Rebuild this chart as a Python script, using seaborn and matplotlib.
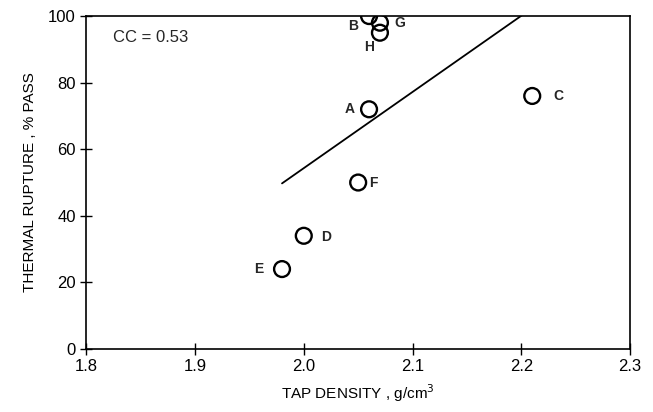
import matplotlib
matplotlib.use("Agg")
import matplotlib.pyplot as plt
import seaborn as sns
import pandas as pd

labels = ["A", "B", "C", "D", "E", "F", "G", "H"]
tap_density = [2.06, 2.06, 2.21, 2.00, 1.98, 2.05, 2.07, 2.07]
pass_pct = [72, 100, 76, 34, 24, 50, 98, 95]
x_ticks = [1.8, 1.9, 2.0, 2.1, 2.2, 2.3]
y_ticks = [0, 20, 40, 60, 80, 100]
cc_text = "CC = 0.53"

df = pd.DataFrame({"label": labels, "x": tap_density, "y": pass_pct})

sns.set_theme(style="white")
plt.rcParams["font.family"] = ["Liberation Sans", "DejaVu Sans"]

fig = plt.figure(figsize=(6.53, 4.12), dpi=100)
ax = fig.add_axes([0.132, 0.153, 0.833, 0.808])

sns.regplot(data=df, x="x", y="y", scatter=False, ci=None, truncate=True,
            line_kws=dict(color="black", lw=1.3), ax=ax)
sns.scatterplot(data=df, x="x", y="y", marker="o", s=130, facecolor="none",
                edgecolor="black", linewidth=1.7, ax=ax, zorder=3)

offsets = {"A": (-14, 0), "B": (-11.5, -7), "C": (19, 0), "D": (16, -1),
           "E": (-17, 0), "F": (11, 0), "G": (14, 0), "H": (-8, -10)}
for lab, xv, yv in zip(labels, tap_density, pass_pct):
    dx, dy = offsets[lab]
    ax.annotate(lab, (xv, yv), xytext=(dx, dy), textcoords="offset points",
                ha="center", va="center", fontsize=10, fontweight="bold")

ax.text(0.05, 0.935, cc_text, transform=ax.transAxes, fontsize=12,
        ha="left", va="center")

ax.set_xlim(1.8, 2.3)
ax.set_ylim(0, 100)
ax.set_xticks(x_ticks)
ax.set_xticklabels([f"{v:.1f}" for v in x_ticks])
ax.set_yticks(y_ticks)
ax.tick_params(direction="inout", length=8, width=1, labelsize=12,
               color="black", labelcolor="black", bottom=True, left=True)
for s in ax.spines.values():
    s.set_color("black")
    s.set_linewidth(1.2)
ax.set_xlabel("TAP DENSITY , g/cm$^3$", fontsize=11, color="black", labelpad=6)
ax.set_ylabel("THERMAL RUPTURE , % PASS", fontsize=11, color="black", labelpad=8)

fig.savefig("out.png", dpi=100, facecolor="white")
